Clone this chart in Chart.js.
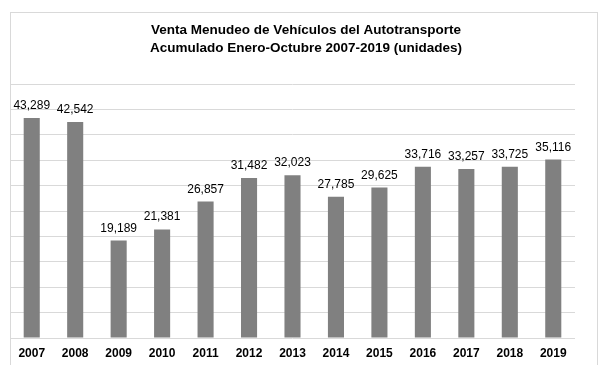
<!DOCTYPE html>
<html>
<head>
<meta charset="utf-8">
<script src="https://cdn.jsdelivr.net/npm/chart.js@4.4.1/dist/chart.umd.min.js"></script>
<style>
    html, body { margin: 0; padding: 0; background: #fff; }
    #wrap { position: relative; width: 615px; height: 377px; }
    #frame {
        position: absolute; left: 10px; top: 12px; width: 588px; height: 353px;
        border: 1px solid #d9d9d9; border-bottom: none; box-sizing: border-box;
    }
    canvas { position: absolute; left: 0; top: 0; }
</style>
</head>
<body>
<div id="wrap">
    <div id="frame"></div>
    <canvas id="ventaChart" width="615" height="377"></canvas>
</div>
<script>
const years = ["2007", "2008", "2009", "2010", "2011", "2012", "2013", "2014", "2015", "2016", "2017", "2018", "2019"];
const unidades = [43289, 42542, 19189, 21381, 26857, 31482, 32023, 27785, 29625, 33716, 33257, 33725, 35116];
const titleLines = ["Venta Menudeo de Vehículos del Autotransporte", "Acumulado Enero-Octubre 2007-2019 (unidades)"];

// title sits a little right of the plot centre, so draw it by hand
const chartTitle = {
    id: "chartTitle",
    afterDraw(chart) {
        const ctx = chart.ctx;
        ctx.save();
        ctx.font = "bold 13.5px 'Liberation Sans', Arial, sans-serif";
        ctx.fillStyle = "#000";
        ctx.textAlign = "center";
        ctx.textBaseline = "middle";
        titleLines.forEach((line, i) => ctx.fillText(line, 306, 30 + i * 18));
        ctx.restore();
    },
};

const barLabels = {
    id: "barLabels",
    afterDatasetsDraw(chart) {
        const ctx = chart.ctx;
        const meta = chart.getDatasetMeta(0);
        ctx.save();
        ctx.font = "12px 'Liberation Sans', Arial, sans-serif";
        ctx.fillStyle = "#000";
        ctx.textAlign = "center";
        ctx.textBaseline = "alphabetic";
        meta.data.forEach((bar, i) => {
            ctx.fillText(unidades[i].toLocaleString("en-US"), bar.x, bar.y - 9);
        });
        ctx.restore();
    },
};

new Chart(document.getElementById("ventaChart").getContext("2d"), {
    type: "bar",
    data: {
        labels: years,
        datasets: [{
            data: unidades,
            backgroundColor: "#808080",
            barPercentage: 0.37,
            categoryPercentage: 1,
        }],
    },
    options: {
        responsive: false,
        animation: false,
        layout: { padding: { left: 10, right: 40, top: 84, bottom: 0 } },
        plugins: {
            legend: { display: false },
            tooltip: { enabled: false },
            title: { display: false },
        },
        scales: {
            x: {
                grid: { display: false, drawTicks: false },
                border: { display: false },
                ticks: {
                    color: "#000",
                    padding: 8,
                    font: { family: "'Liberation Sans', Arial, sans-serif", size: 12, weight: "bold" },
                },
                afterFit: (s) => { s.height = 39; },
            },
            y: {
                min: 0,
                max: 50000,
                ticks: { display: false, stepSize: 5000 },
                grid: { color: "#d9d9d9", drawTicks: false },
                border: { display: false },
                afterFit: (s) => { s.width = 0; },
            },
        },
    },
    plugins: [barLabels, chartTitle],
});
</script>
</body>
</html>
